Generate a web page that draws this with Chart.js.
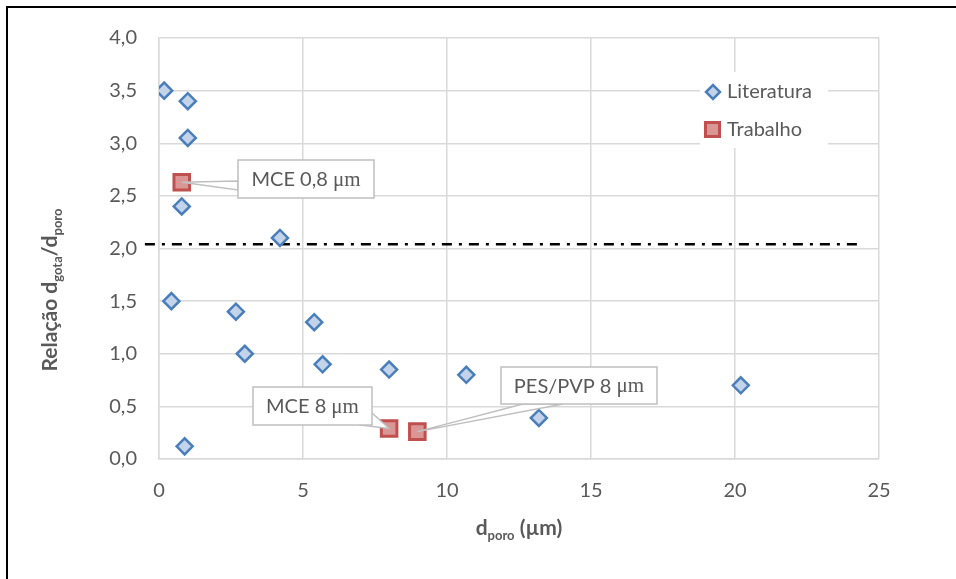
<!DOCTYPE html>
<html>
<head>
<meta charset="utf-8">
<script src="https://cdn.jsdelivr.net/npm/chart.js@4.4.1/dist/chart.umd.min.js"></script>
<style>
  html, body { margin: 0; padding: 0; background: #fff; }
  #wrap { width: 956px; height: 579px; }
</style>
</head>
<body>
<div id="wrap"><canvas id="myChart" width="956" height="579"></canvas></div>
<script>
// dados
var literaturaX = [0.18, 1.0, 1.0, 0.79, 4.2, 0.43, 2.67, 5.39, 2.98, 5.68, 7.99, 10.67, 13.19, 20.2, 0.89];
var literaturaY = [3.50, 3.40, 3.05, 2.40, 2.10, 1.50, 1.40, 1.30, 1.00, 0.90, 0.85, 0.80, 0.39, 0.70, 0.12];
var trabalhoX = [0.79, 7.99, 8.97];
var trabalhoY = [2.63, 0.29, 0.26];
var trabalhoNomes = ['MCE 0,8 ', 'MCE 8 ', 'PES/PVP 8 '];
var limiteX = [-0.49, 24.3];
var limiteY = [2.04, 2.04];
var xTicks = [0, 5, 10, 15, 20, 25];
var yTicks = [0, 0.5, 1, 1.5, 2, 2.5, 3, 3.5, 4];

function pares(xs, ys) {
    var out = [];
    for (let i = 0; i < xs.length; i++) {
        out.push({x: xs[i], y: ys[i]});
    }
    return out;
}

var cinza = '#595959';
var fonte = 'Lato, "Open Sans", sans-serif';

// texto com subscritos
function textoRico(ctx, partes, x, y) {
    let w = 0;
    partes.forEach(function (p) {
        ctx.font = p.sub ? 'bold 13px ' + fonte : 'bold 21px ' + fonte;
        w += ctx.measureText(p.t).width;
    });
    let cx = x - w / 2;
    ctx.textAlign = 'left';
    ctx.textBaseline = 'alphabetic';
    partes.forEach(function (p) {
        ctx.font = p.sub ? 'bold 13px ' + fonte : 'bold 21px ' + fonte;
        ctx.fillText(p.t, cx, y + (p.sub ? 5 : 0));
        cx += ctx.measureText(p.t).width;
    });
}

// caixas de rotulo (callouts)
var callouts = [
    {i: 0, box: [238, 160, 136, 38], base: [[238, 181], [238, 190]]},
    {i: 1, box: [253, 387, 119, 38], base: [[360, 425], [372, 413]]},
    {i: 2, box: [501, 367, 156, 37], base: [[523, 404], [563, 404]]}
];

var extras = {
    id: 'extras',
    beforeDraw: function (chart) {
        const ctx = chart.ctx;
        ctx.save();
        ctx.fillStyle = '#fff';
        ctx.fillRect(0, 0, chart.width, chart.height);
        ctx.strokeStyle = '#000';
        ctx.lineWidth = 2;
        ctx.beginPath();
        ctx.moveTo(7, chart.height);
        ctx.lineTo(7, 7);
        ctx.lineTo(chart.width, 7);
        ctx.stroke();
        ctx.restore();
    },
    afterDatasetsDraw: function (chart) {
        const ctx = chart.ctx;
        const xs = chart.scales.x, ys = chart.scales.y;
        ctx.save();

        // legenda
        ctx.fillStyle = '#fff';
        ctx.fillRect(700, 72, 128, 76);
        ctx.lineWidth = 2.5;
        ctx.strokeStyle = '#4a7ebb';
        ctx.fillStyle = '#c3d4ea';
        ctx.beginPath();
        ctx.moveTo(706, 92); ctx.lineTo(713, 85); ctx.lineTo(720, 92); ctx.lineTo(713, 99);
        ctx.closePath(); ctx.fill(); ctx.stroke();
        ctx.strokeStyle = '#c0504d';
        ctx.fillStyle = '#d99694';
        ctx.fillRect(705.5, 122.5, 14, 14);
        ctx.lineWidth = 3;
        ctx.strokeRect(705.5, 122.5, 14, 14);
        ctx.fillStyle = cinza;
        ctx.font = '20px ' + fonte;
        ctx.textAlign = 'left';
        ctx.textBaseline = 'middle';
        ctx.fillText('Literatura', 727, 92);
        ctx.fillText('Trabalho', 727, 130);

        // callouts
        callouts.forEach(function (c) {
            const px = xs.getPixelForValue(trabalhoX[c.i]);
            const py = ys.getPixelForValue(trabalhoY[c.i]);
            ctx.strokeStyle = '#bfbfbf';
            ctx.lineWidth = 1.5;
            ctx.fillStyle = '#fff';
            ctx.beginPath();
            ctx.moveTo(px, py);
            ctx.lineTo(c.base[0][0], c.base[0][1]);
            ctx.lineTo(c.base[1][0], c.base[1][1]);
            ctx.closePath();
            ctx.fill(); ctx.stroke();
            ctx.fillRect(c.box[0], c.box[1], c.box[2], c.box[3]);
            ctx.strokeRect(c.box[0], c.box[1], c.box[2], c.box[3]);
            const t1 = trabalhoNomes[c.i];
            ctx.font = '20px ' + fonte;
            const w1 = ctx.measureText(t1).width;
            ctx.font = '21px "Liberation Serif", serif';
            const w2 = ctx.measureText('\u03bcm').width;
            let sx = c.box[0] + c.box[2] / 2 - (w1 + w2) / 2;
            const sy = c.box[1] + c.box[3] / 2 + 1;
            ctx.fillStyle = cinza;
            ctx.textAlign = 'left';
            ctx.textBaseline = 'middle';
            ctx.font = '20px ' + fonte;
            ctx.fillText(t1, sx, sy);
            ctx.font = '21px "Liberation Serif", serif';
            ctx.fillText('\u03bcm', sx + w1, sy);
        });

        // titulos dos eixos
        ctx.fillStyle = cinza;
        textoRico(ctx, [{t: 'd'}, {t: 'poro', sub: true}, {t: ' (\u00b5m)'}], (chart.chartArea.left + chart.chartArea.right) / 2, 535);
        ctx.translate(57, 290);
        ctx.rotate(-Math.PI / 2);
        textoRico(ctx, [{t: 'Relação d'}, {t: 'gota', sub: true}, {t: '/d'}, {t: 'poro', sub: true}], 0, 0);
        ctx.restore();
    }
};

function CrearGraf() {
    var ctx = document.getElementById('myChart').getContext('2d');

    var data = {
        datasets: [
            {
                label: 'limite',
                type: 'line',
                data: pares(limiteX, limiteY),
                borderColor: '#000',
                borderWidth: 2.5,
                borderDash: [10, 7, 3, 7],
                pointRadius: 0,
                clip: false,
                order: 3
            },
            {
                label: 'Literatura',
                data: pares(literaturaX, literaturaY),
                pointStyle: 'rectRot',
                pointRadius: 8,
                pointHoverRadius: 8,
                borderWidth: 2.5,
                borderColor: '#4a7ebb',
                backgroundColor: '#c3d4ea',
                order: 2
            },
            {
                label: 'Trabalho',
                data: pares(trabalhoX, trabalhoY),
                pointStyle: 'rect',
                pointRadius: 11,
                pointHoverRadius: 11,
                borderWidth: 3,
                borderColor: '#c0504d',
                backgroundColor: '#d99694',
                order: 1
            }
        ]
    };

    var options = {
        responsive: false,
        animation: false,
        layout: { padding: { top: 38, right: 77, left: 0, bottom: 0 } },
        plugins: { legend: { display: false }, tooltip: { enabled: false } },
        scales: {
            x: {
                type: 'linear',
                min: 0,
                max: 25,
                afterFit: function (s) { s.height = 120; },
                afterBuildTicks: function (s) { s.ticks = xTicks.map(function (v) { return {value: v}; }); },
                ticks: { color: cinza, font: { family: fonte, size: 20 }, padding: 20, callback: function (v) { return v; } },
                grid: { color: '#d9d9d9', lineWidth: 1.5, drawTicks: false },
                border: { color: '#d9d9d9', width: 1.5 }
            },
            y: {
                min: 0,
                max: 4,
                afterFit: function (s) { s.width = 159; },
                afterBuildTicks: function (s) { s.ticks = yTicks.map(function (v) { return {value: v}; }); },
                ticks: {
                    color: cinza, font: { family: fonte, size: 20 }, padding: 22,
                    callback: function (v) { return v.toFixed(1).replace('.', ','); }
                },
                grid: { color: '#d9d9d9', lineWidth: 1.5, drawTicks: false },
                border: { color: '#d9d9d9', width: 1.5 }
            }
        }
    };

    var myChart = new Chart(ctx, {
        type: 'scatter',
        data: data,
        options: options,
        plugins: [extras]
    });
}

CrearGraf();
</script>
</body>
</html>
